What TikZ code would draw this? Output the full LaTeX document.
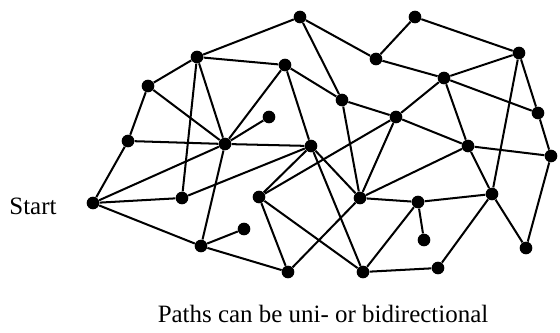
\documentclass[tikz,border=0pt]{standalone}
\usepackage{fontspec}
\setmainfont{Liberation Serif}
\tikzset{
  vertex/.style={
    shape=circle,
    fill,
    inner sep=0pt,
    minimum size=7.2pt
  },
  link/.style={
    line width=1.15pt
  },
  every picture/.style = {
    font=\fontsize{14.2pt}{17pt}\selectfont
  }
}

\begin{document}
\begin{tikzpicture}[x=0.02cm,y=-0.02cm]
    \useasboundingbox (0,0) rectangle (560,333);
    % nodes
    \node[vertex] (s) at (93,203) {};
    \node[vertex] (a) at (197,57) {};
    \node[vertex] (b) at (148,86) {};
    \node[vertex] (c) at (128,141) {};
    \node[vertex] (d) at (225,144) {};
    \node[vertex] (e) at (269,117) {};
    \node[vertex] (f) at (300,17) {};
    \node[vertex] (g) at (415,17) {};
    \node[vertex] (h) at (376,59) {};
    \node[vertex] (i) at (285,65) {};
    \node[vertex] (j) at (342,100) {};
    \node[vertex] (k) at (396,117) {};
    \node[vertex] (l) at (311,146) {};
    \node[vertex] (m) at (444,78) {};
    \node[vertex] (n) at (519,53) {};
    \node[vertex] (o) at (538,113) {};
    \node[vertex] (p) at (468,146) {};
    \node[vertex] (q) at (551,156) {};
    \node[vertex] (r) at (492,194) {};
    \node[vertex] (t) at (182,198) {};
    \node[vertex] (u) at (259,197) {};
    \node[vertex] (v) at (201,246) {};
    \node[vertex] (w) at (244,229) {};
    \node[vertex] (x) at (360,198) {};
    \node[vertex] (y) at (418,202) {};
    \node[vertex] (z) at (424,240) {};
    \node[vertex] (aa) at (288,272) {};
    \node[vertex] (bb) at (363,272) {};
    \node[vertex] (cc) at (438,268) {};
    \node[vertex] (dd) at (526,248) {};
    % edges
    \draw[link] (s) -- (c);
    \draw[link] (s) -- (d);
    \draw[link] (s) -- (t);
    \draw[link] (s) -- (v);
    \draw[link] (a) -- (b);
    \draw[link] (a) -- (f);
    \draw[link] (a) -- (i);
    \draw[link] (a) -- (d);
    \draw[link] (a) -- (t);
    \draw[link] (b) -- (c);
    \draw[link] (b) -- (d);
    \draw[link] (c) -- (d);
    \draw[link] (d) -- (e);
    \draw[link] (d) -- (i);
    \draw[link] (d) -- (l);
    \draw[link] (d) -- (v);
    \draw[link] (f) -- (h);
    \draw[link] (f) -- (j);
    \draw[link] (g) -- (h);
    \draw[link] (g) -- (n);
    \draw[link] (h) -- (m);
    \draw[link] (i) -- (j);
    \draw[link] (i) -- (l);
    \draw[link] (j) -- (k);
    \draw[link] (j) -- (x);
    \draw[link] (k) -- (m);
    \draw[link] (k) -- (p);
    \draw[link] (k) -- (u);
    \draw[link] (k) -- (x);
    \draw[link] (l) -- (t);
    \draw[link] (l) -- (u);
    \draw[link] (l) -- (x);
    \draw[link] (l) -- (bb);
    \draw[link] (m) -- (n);
    \draw[link] (m) -- (o);
    \draw[link] (m) -- (p);
    \draw[link] (n) -- (o);
    \draw[link] (n) -- (r);
    \draw[link] (o) -- (q);
    \draw[link] (p) -- (q);
    \draw[link] (p) -- (r);
    \draw[link] (p) -- (x);
    \draw[link] (q) -- (dd);
    \draw[link] (r) -- (y);
    \draw[link] (r) -- (cc);
    \draw[link] (r) -- (dd);
    \draw[link] (u) -- (aa);
    \draw[link] (u) -- (bb);
    \draw[link] (v) -- (w);
    \draw[link] (v) -- (aa);
    \draw[link] (x) -- (y);
    \draw[link] (x) -- (aa);
    \draw[link] (y) -- (z);
    \draw[link] (y) -- (bb);
    \draw[link] (bb) -- (cc);
    % labels
    \node[anchor=base] (start) at (33,215) {Start};
    \node[anchor=base] (caption) at (323,323) {Paths can be uni- or bidirectional};
\end{tikzpicture}
\end{document}
